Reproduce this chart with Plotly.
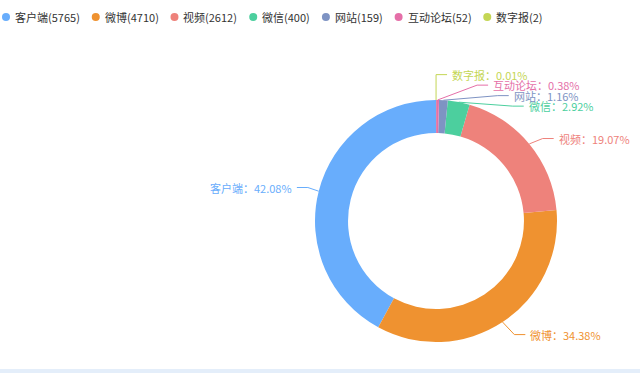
import math
import plotly.graph_objects as go

# ---------------- data ----------------
categories = ["客户端", "微博", "视频", "微信", "网站", "互动论坛", "数字报"]
counts = [5765, 4710, 2612, 400, 159, 52, 2]
colors = ["#68adfc", "#ef9230", "#ee827b", "#4ccf9e", "#7e93c3", "#e56fa8", "#c4d654"]

# ---------------- layout constants ----------------
W, H = 640, 373
CX, CY, R = 436.0, 221.0, 121.0     # donut centre / outer radius (px)
HOLE = 0.727
LEN1, LEN2, GAP = 15.0, 11.0, 4.0   # label line lengths
LABEL_H = 10.5
FONT = "Noto Sans CJK SC"
FS = 11

total = float(sum(counts))
pcts = [round(v / total * 100, 2) for v in counts]

# ---------------- label layout (echarts-like) ----------------
items = []
cum = 0.0
for i, v in enumerate(counts):
    theta = (cum + v / 2.0) / total * 360.0      # ccw from 12 o'clock
    cum += v
    phi = math.radians(90.0 + theta)
    c, s = math.cos(phi), math.sin(phi)
    d = 1 if c >= 0 else -1
    x0, y0 = CX + R * c, CY - R * s
    x2, y2 = CX + (R + LEN1) * c, CY - (R + LEN1) * s
    x3 = x2 + d * LEN2
    items.append(dict(i=i, dir=d, p0=(x0, y0), x=x3 + d * GAP, y=y2, h=LABEL_H))


def adjust_side(lst, d):
    lst.sort(key=lambda it: it["y"])
    n = len(lst)

    def shift_up(end, delta):
        for j in range(end, -1, -1):
            if lst[j]["y"] - delta < 0:
                break
            lst[j]["y"] -= delta
            if j > 0 and lst[j]["y"] > lst[j - 1]["y"] + lst[j - 1]["h"]:
                break

    def shift_down(start, end, delta):
        for j in range(start, end):
            if lst[j]["y"] + delta > H:
                break
            lst[j]["y"] += delta
            if j > start and j + 1 < end and lst[j + 1]["y"] > lst[j]["y"] + lst[j]["h"]:
                shift_up(j, delta / 2.0)
                return
        shift_up(end - 1, delta / 2.0)

    last = 0.0
    for k in range(n):
        delta = lst[k]["y"] - last
        if delta < 0:
            shift_down(k, n, -delta)
        last = lst[k]["y"] + lst[k]["h"]
    if H - last < 0:
        shift_up(n - 1, last - H)

    up = [it for it in lst if it["y"] < CY]
    down = [it for it in lst if it["y"] >= CY]

    def change_x(sub, is_down):
        last_dx = float("inf") if is_down else 0.0
        for it in sub:
            dy = abs(it["y"] - CY)
            if dy < R + LEN1:
                dx = math.sqrt((R + LEN1 + LEN2) ** 2 - dy * dy)
            else:
                dx = abs(it["x"] - CX)
            if is_down and dx >= last_dx:
                dx = last_dx - 10
            if (not is_down) and dx <= last_dx:
                dx = last_dx + 10
            it["x"] = CX + dx * d
            last_dx = dx

    change_x(up, False)
    change_x(down, True)


right = [it for it in items if it["dir"] > 0]
left = [it for it in items if it["dir"] < 0]
adjust_side(right, 1)
adjust_side(left, -1)

fig = go.Figure()

# donut: first slice starts at 12 o'clock and runs counter-clockwise
first_angle = counts[0] / total * 360.0
fig.add_trace(go.Pie(
    labels=categories, values=counts, sort=False, direction="counterclockwise",
    rotation=-first_angle, hole=HOLE, textinfo="none", hoverinfo="label+value+percent",
    marker=dict(colors=colors, line=dict(width=0)), showlegend=False,
    domain=dict(x=[(CX - R) / W, (CX + R) / W], y=[1 - (CY + R) / H, 1 - (CY - R) / H]),
))

annotations = []
for it in items:
    i, d = it["i"], it["dir"]
    p2x = it["x"] - d * GAP
    p1x = p2x - d * LEN2
    fig.add_trace(go.Scatter(
        x=[it["p0"][0], p1x, p2x], y=[it["p0"][1], it["y"], it["y"]],
        mode="lines", line=dict(color=colors[i], width=1),
        hoverinfo="skip", showlegend=False,
    ))
    annotations.append(dict(
        x=it["x"], y=it["y"], xref="x", yref="y", showarrow=False,
        text=f"{categories[i]}：{pcts[i]:.2f}%",
        xanchor="left" if d > 0 else "right", yanchor="middle",
        font=dict(family=FONT, size=FS, color=colors[i]), borderpad=0,
    ))


# custom legend (circle markers)
def text_width(t):
    w = 0.0
    for ch in t:
        if ord(ch) > 0x2E80:
            w += FS
        elif ch.isdigit():
            w += 0.55 * FS
        elif ch in "()":
            w += 0.32 * FS
        else:
            w += 0.5 * FS
    return w


lx, ly = 6.0, 17.0
for i, cat in enumerate(categories):
    label = f"{cat}({counts[i]})"
    fig.add_trace(go.Scatter(
        x=[lx], y=[ly], mode="markers",
        marker=dict(size=8, color=colors[i]), hoverinfo="skip", showlegend=False,
    ))
    annotations.append(dict(
        x=lx + 8, y=ly, xref="x", yref="y", showarrow=False, text=label,
        xanchor="left", yanchor="middle", borderpad=0,
        font=dict(family=FONT, size=FS, color="#333333"),
    ))
    lx = lx + 8 + text_width(label) + 17.5

fig.update_layout(
    width=W, height=H, margin=dict(l=0, r=0, t=0, b=0),
    paper_bgcolor="white", plot_bgcolor="white",
    xaxis=dict(range=[0, W], visible=False, fixedrange=True),
    yaxis=dict(range=[H, 0], visible=False, fixedrange=True),
    annotations=annotations,
    shapes=[dict(type="rect", xref="paper", yref="paper", x0=0, x1=1,
                 y0=0, y1=4.0 / H, fillcolor="#e4eefa", line=dict(width=0), layer="below")],
    showlegend=False,
)

fig.write_html("out.html", config={"displayModeBar": False},
               post_script="document.body.style.margin='0';")
